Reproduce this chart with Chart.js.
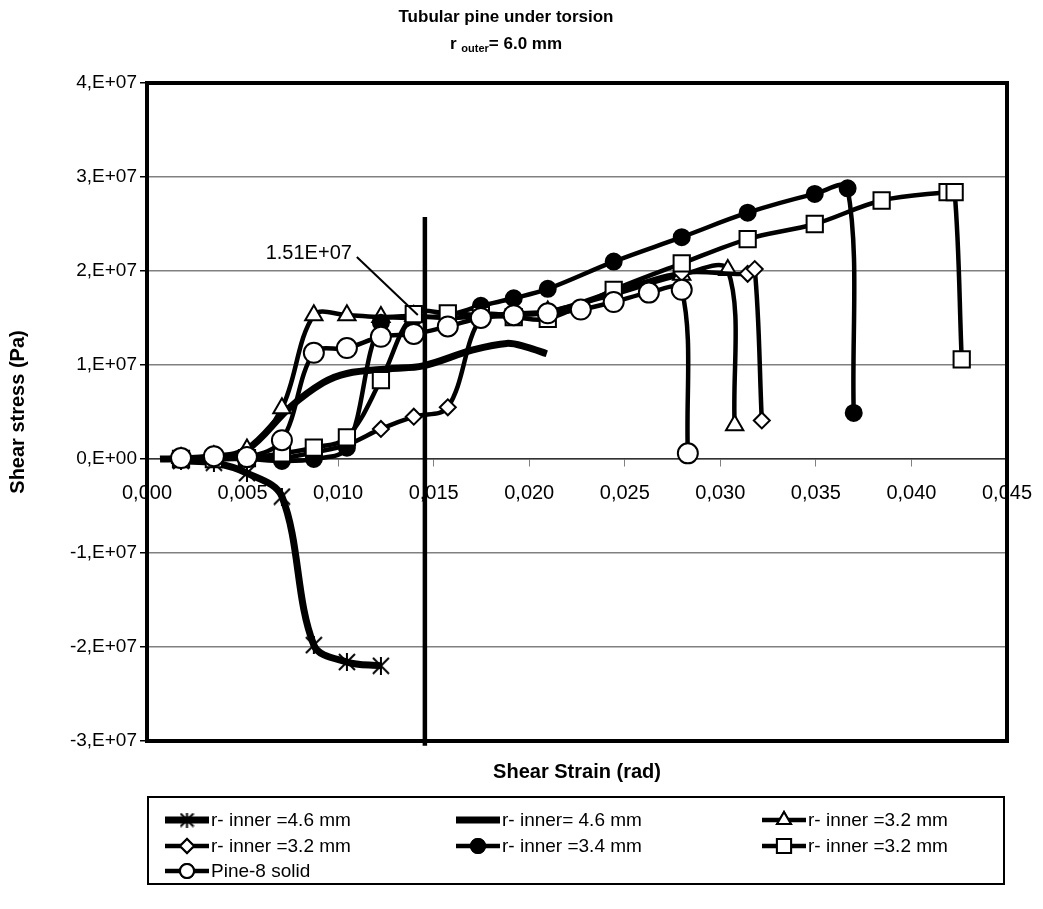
<!DOCTYPE html>
<html>
<head>
<meta charset="utf-8">
<script src="https://cdn.jsdelivr.net/npm/chart.js@4.4.1/dist/chart.umd.min.js"></script>
<style>
  html, body { margin: 0; padding: 0; background: #fff; }
  canvas { display: block; }
</style>
</head>
<body>
<canvas id="grafico" width="1043" height="909"></canvas>
<script>
// valores (deformação em rad, tensão em Pa)
const strainStar = [0.00178, 0.00350, 0.00523, 0.00706, 0.00873, 0.01046, 0.01224];
const stressStar = [-0.2e6, -0.4e6, -1.5e6, -4.0e6, -1.98e7, -2.16e7, -2.2e7];

const strainPlain = [0.00068, 0.00350, 0.00523, 0.00748, 0.00921, 0.01046, 0.01271, 0.01444, 0.01705, 0.01883, 0.01987, 0.02092];
const stressPlain = [0, 0.2e6, 1.0e6, 5.5e6, 8.1e6, 9.1e6, 9.6e6, 9.9e6, 1.16e7, 1.23e7, 1.19e7, 1.12e7];

const strainTri = [0.00178, 0.00350, 0.00523, 0.00706, 0.00873, 0.01046, 0.01224, 0.01396, 0.01574, 0.01747, 0.01919, 0.02097, 0.02442, 0.02798, 0.03039, 0.03075];
const stressTri = [0.1e6, 0.3e6, 1.0e6, 5.4e6, 1.53e7, 1.53e7, 1.51e7, 1.52e7, 1.50e7, 1.52e7, 1.55e7, 1.57e7, 1.75e7, 1.96e7, 2.01e7, 0.36e7];

const strainDia = [0.00178, 0.00350, 0.00523, 0.00706, 0.00873, 0.01046, 0.01224, 0.01396, 0.01574, 0.01747, 0.01919, 0.02097, 0.02442, 0.02798, 0.03143, 0.03180, 0.03217];
const stressDia = [0, 0, 0, 0.1e6, 0.7e6, 1.5e6, 3.2e6, 4.5e6, 5.5e6, 1.50e7, 1.53e7, 1.56e7, 1.78e7, 1.98e7, 1.97e7, 2.02e7, 0.41e7];

const strainDot = [0.00178, 0.00350, 0.00523, 0.00706, 0.00873, 0.01046, 0.01224, 0.01396, 0.01574, 0.01747, 0.01919, 0.02097, 0.02442, 0.02798, 0.03143, 0.03494, 0.03666, 0.03698];
const stressDot = [0, 0, 0, -0.2e6, 0, 1.2e6, 1.45e7, 1.50e7, 1.53e7, 1.63e7, 1.71e7, 1.81e7, 2.10e7, 2.36e7, 2.62e7, 2.82e7, 2.88e7, 0.49e7];

const strainSq = [0.00178, 0.00350, 0.00523, 0.00706, 0.00873, 0.01046, 0.01224, 0.01396, 0.01574, 0.01747, 0.01919, 0.02097, 0.02442, 0.02798, 0.03143, 0.03494, 0.03844, 0.04189, 0.04226, 0.04263];
const stressSq = [0, 0, 0.1e6, 0.6e6, 1.2e6, 2.3e6, 8.4e6, 1.54e7, 1.55e7, 1.53e7, 1.51e7, 1.49e7, 1.80e7, 2.08e7, 2.34e7, 2.50e7, 2.75e7, 2.84e7, 2.84e7, 1.06e7];

const strainPine = [0.00178, 0.00350, 0.00523, 0.00706, 0.00873, 0.01046, 0.01224, 0.01396, 0.01574, 0.01747, 0.01919, 0.02097, 0.02270, 0.02442, 0.02626, 0.02798, 0.02830];
const stressPine = [0.1e6, 0.3e6, 0.2e6, 2.0e6, 1.13e7, 1.18e7, 1.30e7, 1.33e7, 1.41e7, 1.50e7, 1.53e7, 1.55e7, 1.59e7, 1.67e7, 1.77e7, 1.80e7, 0.06e7];

// linha vertical e seta da anotação
const strainVLine = [0.01454, 0.01454];
const stressVLine = [2.575e7, -3.05e7];
const strainArrow = [0.01098, 0.01417];
const stressArrow = [2.149e7, 1.532e7];
const annotText = "1.51E+07";
const annotPos = [0.01072, 2.19e7];

const seriesNames = ["r- inner =4.6 mm", "r- inner= 4.6 mm", "r- inner =3.2 mm", "r- inner =3.2 mm", "r- inner =3.4 mm", "r- inner =3.2 mm", "Pine-8 solid"];

const xTicks = { min: 0, max: 0.045, step: 0.005 };
const yTicks = { min: -3e7, max: 4e7, step: 1e7 };

const FONTE = "'Liberation Sans', Arial, sans-serif";

function pares(xs, ys) {
  return xs.map((x, i) => ({ x: x, y: ys[i] }));
}

// marcador asterisco (X com traço vertical), como no Excel
function asterisco(tam) {
  const c = document.createElement("canvas");
  c.width = tam; c.height = tam;
  const g = c.getContext("2d");
  g.strokeStyle = "#000";
  g.lineWidth = 2;
  g.beginPath();
  g.moveTo(1, 1); g.lineTo(tam - 1, tam - 1);
  g.moveTo(tam - 1, 1); g.lineTo(1, tam - 1);
  g.moveTo(tam / 2, 0); g.lineTo(tam / 2, tam);
  g.stroke();
  return c;
}
const starBig = asterisco(18);
const starSmall = asterisco(15);

const base = {
  borderColor: "#000",
  backgroundColor: "#fff",
  pointBorderColor: "#000",
  pointBackgroundColor: "#fff",
  pointBorderWidth: 2,
  showLine: true,
  tension: 0.35,
  fill: false
};

const datasets = [
  Object.assign({}, base, { label: seriesNames[0], data: pares(strainStar, stressStar), borderWidth: 7, pointStyle: starBig, pointRadius: 9, order: 7, legStyle: starSmall, legR: 7 }),
  Object.assign({}, base, { label: seriesNames[1], data: pares(strainPlain, stressPlain), borderWidth: 7, pointRadius: 0, order: 6, legStyle: false, legR: 0 }),
  Object.assign({}, base, { label: seriesNames[2], data: pares(strainTri, stressTri), borderWidth: 4.5, pointStyle: "triangle", pointRadius: 10, order: 5, legStyle: "triangle", legR: 8 }),
  Object.assign({}, base, { label: seriesNames[3], data: pares(strainDia, stressDia), borderWidth: 4.5, pointStyle: "rectRot", pointRadius: 8, order: 4, legStyle: "rectRot", legR: 7 }),
  Object.assign({}, base, { label: seriesNames[4], data: pares(strainDot, stressDot), borderWidth: 4.5, pointStyle: "circle", pointRadius: 8, pointBackgroundColor: "#000", order: 3, legStyle: "circle", legR: 7, legFill: "#000" }),
  Object.assign({}, base, { label: seriesNames[5], data: pares(strainSq, stressSq), borderWidth: 4.5, pointStyle: "rect", pointRadius: 11.5, order: 2, legStyle: "rect", legR: 10 }),
  Object.assign({}, base, { label: seriesNames[6], data: pares(strainPine, stressPine), borderWidth: 4.5, pointStyle: "circle", pointRadius: 10, order: 1, legStyle: "circle", legR: 7 }),
  { label: "vline", data: pares(strainVLine, stressVLine), showLine: true, borderColor: "#000", borderWidth: 4.5, pointRadius: 0, tension: 0, order: 0, clip: false, semLegenda: true },
  { label: "seta", data: pares(strainArrow, stressArrow), showLine: true, borderColor: "#000", borderWidth: 2, pointRadius: 0, tension: 0, order: 0, semLegenda: true }
];

// moldura da área do gráfico, títulos e legenda com caixa
const extras = {
  id: "extras",
  beforeDatasetsDraw(chart) {
    const { ctx, chartArea: a } = chart;
    ctx.save();
    ctx.strokeStyle = "#000";
    ctx.lineWidth = 4;
    ctx.strokeRect(a.left, a.top, a.right - a.left, a.bottom - a.top);
    ctx.restore();
  },
  afterDraw(chart) {
    const { ctx, chartArea: a, scales } = chart;
    ctx.save();
    ctx.fillStyle = "#000";

    // título
    ctx.textAlign = "center";
    ctx.textBaseline = "middle";
    ctx.font = "bold 17px " + FONTE;
    const cx = 506;
    ctx.fillText("Tubular pine under torsion", cx, 17);
    const p1 = "r ", p2 = "outer", p3 = "= 6.0 mm";
    const fBig = "bold 17px " + FONTE, fSub = "bold 11px " + FONTE;
    ctx.font = fBig; const w1 = ctx.measureText(p1).width, w3 = ctx.measureText(p3).width;
    ctx.font = fSub; const w2 = ctx.measureText(p2).width;
    let x0 = cx - (w1 + w2 + w3) / 2;
    ctx.textAlign = "left";
    ctx.font = fBig; ctx.fillText(p1, x0, 44);
    ctx.font = fSub; ctx.fillText(p2, x0 + w1, 49);
    ctx.font = fBig; ctx.fillText(p3, x0 + w1 + w2, 44);

    // título do eixo x
    ctx.textAlign = "center";
    ctx.font = "bold 20px " + FONTE;
    ctx.fillText("Shear Strain (rad)", (a.left + a.right) / 2, 772);

    // anotação
    ctx.textAlign = "right";
    ctx.font = "20px " + FONTE;
    ctx.fillText(annotText, scales.x.getPixelForValue(annotPos[0]), scales.y.getPixelForValue(annotPos[1]));

    // legenda
    const box = { l: 148, t: 797, r: 1004, b: 884 };
    ctx.lineWidth = 2;
    ctx.strokeStyle = "#000";
    ctx.strokeRect(box.l, box.t, box.r - box.l, box.b - box.t);
    const colX = [165, 456, 762];
    const rowY = [820, 846, 871];
    const lenLinha = 44;
    ctx.font = "19px " + FONTE;
    ctx.textAlign = "left";
    chart.data.datasets.forEach((ds, i) => {
      if (ds.semLegenda) return;
      const x = colX[i % 3], y = rowY[Math.floor(i / 3)];
      ctx.strokeStyle = "#000";
      ctx.lineWidth = ds.borderWidth;
      ctx.beginPath();
      ctx.moveTo(x, y); ctx.lineTo(x + lenLinha, y);
      ctx.stroke();
      if (ds.legStyle) {
        ctx.fillStyle = ds.legFill || "#fff";
        ctx.lineWidth = 2;
        Chart.helpers.drawPoint(ctx, { pointStyle: ds.legStyle, radius: ds.legR, borderWidth: 2, rotation: 0 }, x + lenLinha / 2, y);
        ctx.fill();
        ctx.stroke();
      }
      ctx.fillStyle = "#000";
      ctx.fillText(ds.label, x + lenLinha + 2, y + 1);
    });
    ctx.restore();
  }
};

new Chart(document.getElementById("grafico").getContext("2d"), {
  type: "scatter",
  data: { datasets: datasets },
  plugins: [extras],
  options: {
    responsive: false,
    animation: false,
    layout: { padding: { top: 83, right: 36, bottom: 168, left: 0 } },
    plugins: {
      legend: { display: false },
      title: { display: false },
      tooltip: { enabled: false }
    },
    scales: {
      x: {
        type: "linear",
        position: { y: 0 },
        min: xTicks.min,
        max: xTicks.max,
        afterFit: (eixo) => { eixo.paddingLeft = 20; eixo.paddingRight = 20; },
        ticks: {
          stepSize: xTicks.step,
          color: "#000",
          font: { family: FONTE, size: 20 },
          padding: 15,
          maxRotation: 0,
          callback: (v) => v.toFixed(3).replace(".", ",")
        },
        grid: { drawOnChartArea: false, drawTicks: true, tickLength: 7, tickColor: "#808080" },
        border: { color: "#333", width: 1.5 }
      },
      y: {
        type: "linear",
        min: yTicks.min,
        max: yTicks.max,
        afterFit: (eixo) => { eixo.width = 147; },
        ticks: {
          stepSize: yTicks.step,
          color: "#000",
          font: { family: FONTE, size: 19 },
          padding: 3,
          callback: (v) => {
            if (v === 0) return "0,E+00";
            const e = Math.floor(Math.log10(Math.abs(v)) + 1e-9);
            const m = Math.round(v / Math.pow(10, e));
            return m + ",E+" + String(e).padStart(2, "0");
          }
        },
        grid: { color: "#808080", lineWidth: 1.5, tickLength: 7, tickColor: "#000" },
        border: { color: "#000", width: 4 },
        title: {
          display: true,
          text: "Shear stress (Pa)",
          color: "#000",
          font: { family: FONTE, size: 20, weight: "bold" },
          padding: { top: 6, bottom: 0 }
        }
      }
    }
  }
});
</script>
</body>
</html>
